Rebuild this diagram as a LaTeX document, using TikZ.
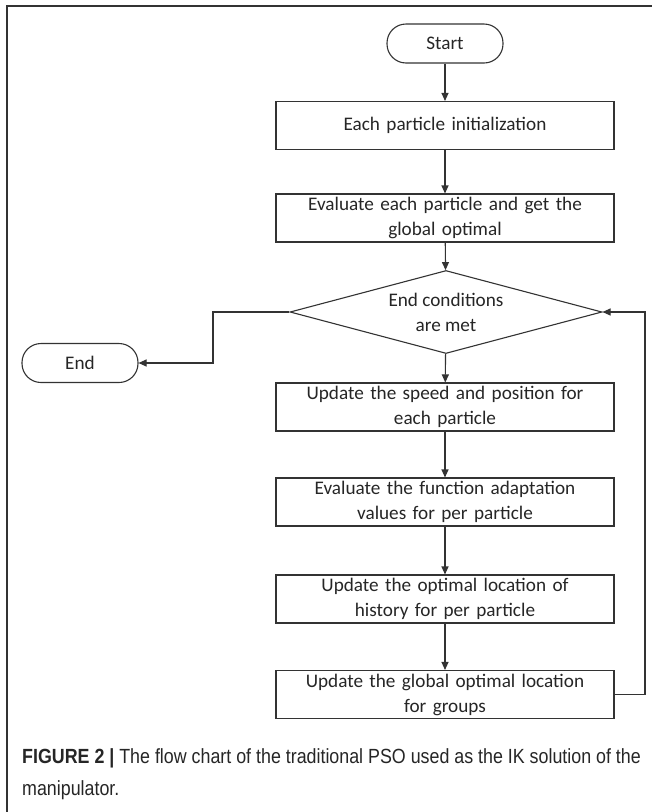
\documentclass[tikz,border=0pt]{standalone}
\usepackage{fontspec}
\setmainfont{Carlito}
\newfontfamily\capfont[FakeStretch=0.87]{Liberation Sans}
\usetikzlibrary{shapes.geometric,arrows.meta}
\definecolor{ln}{HTML}{333333}
\begin{document}
\begin{tikzpicture}[x=1pt,y=-1pt,
  every node/.style={font=\fontsize{19.2}{25}\selectfont, text=black!85},
  procbox/.style={draw=ln, line width=1.1pt, minimum width=338pt, minimum height=48pt, inner sep=0pt, align=center, text width=334pt},
  termbox/.style={draw=ln, line width=1.1pt, rounded corners=19pt, minimum width=116pt, minimum height=39pt, inner sep=0pt},
  decbox/.style={draw=ln, line width=1.1pt, diamond, aspect=3.76, minimum width=312pt, minimum height=83pt, inner sep=0pt, align=center},
  flow/.style={draw=ln, line width=1.1pt, -{Triangle[length=8pt,width=7pt]}},
  capt/.style={font=\capfont\fontsize{20.5}{27}\selectfont, text=black!85, anchor=base west, inner sep=0pt}]
\useasboundingbox (0,0) rectangle (652,812);
\fill[white] (0,0) rectangle (652,812);
\draw[ln, line width=1.4pt] (652,6) -- (7,6) -- (7,812);
\node[termbox] (start) at (445,43.5) {Start};
\node[procbox] (b1) at (445,125.5) {Each particle initialization};
\node[procbox] (b2) at (445,218) {Evaluate each particle and get the\\global optimal};
\node[decbox] (d) at (446,312) {End conditions\\are met};
\node[termbox] (end) at (80,363) {End};
\node[procbox] (b3) at (445,407) {Update the speed and position for\\each particle};
\node[procbox] (b4) at (445,502) {Evaluate the function adaptation\\values for per particle};
\node[procbox] (b5) at (445,599) {Update the optimal location of\\history for per particle};
\node[procbox] (b6) at (445,694.5) {Update the global optimal location\\for groups};
\coordinate (lc) at (213,312);
\coordinate (rc) at (645,312);
\draw[flow] (start) -- (b1);
\draw[flow] (b1) -- (b2);
\draw[flow] (b2) -- (d);
\draw[flow] (d) -- (b3);
\draw[flow] (b3) -- (b4);
\draw[flow] (b4) -- (b5);
\draw[flow] (b5) -- (b6);
\draw[flow] (d.west) -- (lc) |- (end.east);
\draw[flow] (b6.east) -| (rc) -- (d.east);
\node[capt] (cap1) at (22,763) {\textbf{FIGURE 2 |} The flow chart of the traditional PSO used as the IK solution of the};
\node[capt] (cap2) at (22,795) {manipulator.};
\end{tikzpicture}
\end{document}
